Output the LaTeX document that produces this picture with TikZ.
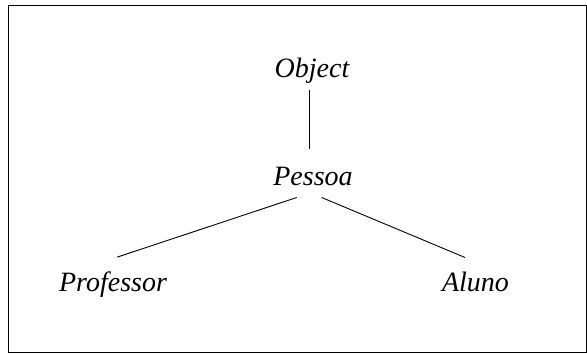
\documentclass[tikz,border=0pt]{standalone}
\usepackage{fontspec}
\setmainfont{Liberation Serif}
\begin{document}
\begin{tikzpicture}[x=1pt,y=-1pt,
  cls/.style={inner sep=0pt, anchor=base, text height=20pt, text depth=6pt,
    font=\fontsize{28}{34}\selectfont\itshape},
  link/.style={line width=0.9pt}]
\useasboundingbox (0,0) rectangle (587,354);
% outer frame
\draw[line width=1.1pt] (8.5,5.5) rectangle (586.8,352.8);
% class names
\node[cls] (obj)  at (312,77.7)   {Object};
\node[cls] (pes)  at (313,185)    {Pessoa};
\node[cls] (prof) at (113,291.7)  {Professor};
\node[cls] (alu)  at (475.5,291.7){Aluno};
% hierarchy links
\draw[link] ([xshift=-2.5pt,yshift=-5.6pt]obj.south) -- ([xshift=-3.5pt,yshift=15.7pt]pes.north);
\draw[link] ([xshift=-16.3pt,yshift=-6.3pt]pes.south) -- ([xshift=4.3pt,yshift=14.4pt]prof.north);
\draw[link] ([xshift=8.7pt,yshift=-6.3pt]pes.south) -- ([xshift=-10.5pt,yshift=14pt]alu.north);
\end{tikzpicture}
\end{document}
